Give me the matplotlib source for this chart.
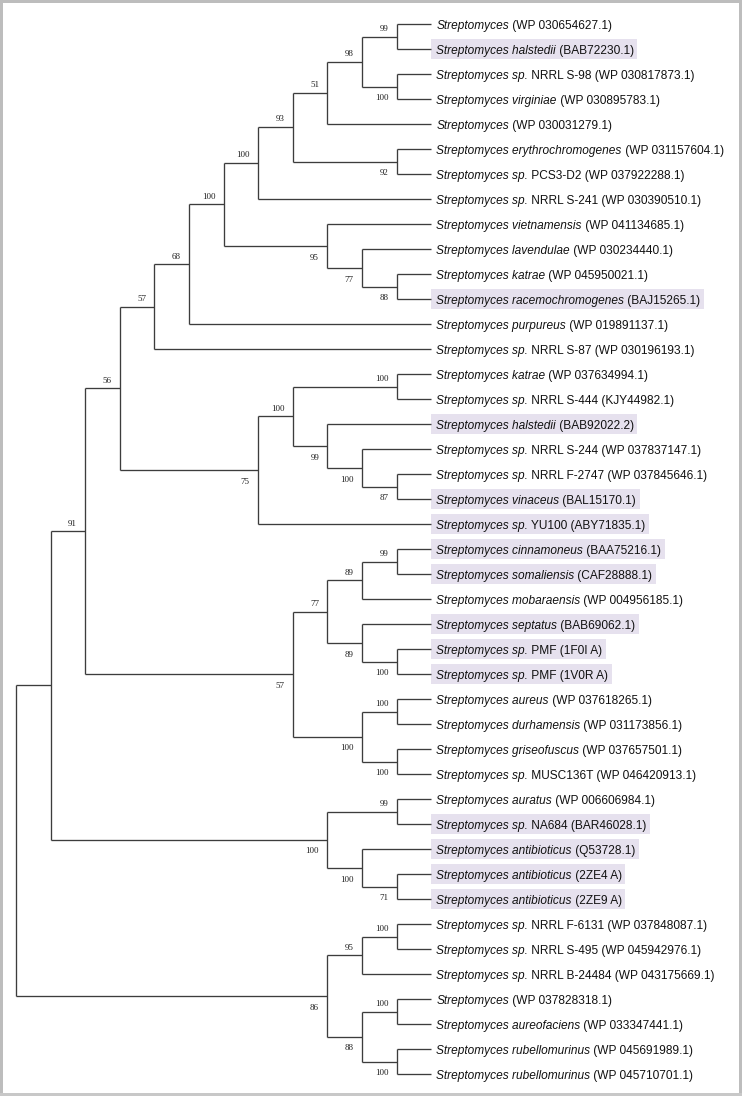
import matplotlib
matplotlib.use("Agg")
import matplotlib.pyplot as plt
from matplotlib.patches import Rectangle

# ---------------- data ----------------
# italic part / roman part of every tip label, top to bottom
taxa_italic = [
    "Streptomyces", "Streptomyces halstedii", "Streptomyces sp.", "Streptomyces virginiae",
    "Streptomyces", "Streptomyces erythrochromogenes", "Streptomyces sp.", "Streptomyces sp.",
    "Streptomyces vietnamensis", "Streptomyces lavendulae", "Streptomyces katrae",
    "Streptomyces racemochromogenes", "Streptomyces purpureus", "Streptomyces sp.",
    "Streptomyces katrae", "Streptomyces sp.", "Streptomyces halstedii", "Streptomyces sp.",
    "Streptomyces sp.", "Streptomyces vinaceus", "Streptomyces sp.", "Streptomyces cinnamoneus",
    "Streptomyces somaliensis", "Streptomyces mobaraensis", "Streptomyces septatus",
    "Streptomyces sp.", "Streptomyces sp.", "Streptomyces aureus", "Streptomyces durhamensis",
    "Streptomyces griseofuscus", "Streptomyces sp.", "Streptomyces auratus", "Streptomyces sp.",
    "Streptomyces antibioticus", "Streptomyces antibioticus", "Streptomyces antibioticus",
    "Streptomyces sp.", "Streptomyces sp.", "Streptomyces sp.", "Streptomyces",
    "Streptomyces aureofaciens", "Streptomyces rubellomurinus", "Streptomyces rubellomurinus",
]
taxa_rest = [
    "(WP 030654627.1)", "(BAB72230.1)", "NRRL S-98 (WP 030817873.1)", "(WP 030895783.1)",
    "(WP 030031279.1)", "(WP 031157604.1)", "PCS3-D2 (WP 037922288.1)",
    "NRRL S-241 (WP 030390510.1)", "(WP 041134685.1)", "(WP 030234440.1)",
    "(WP 045950021.1)", "(BAJ15265.1)", "(WP 019891137.1)", "NRRL S-87 (WP 030196193.1)",
    "(WP 037634994.1)", "NRRL S-444 (KJY44982.1)", "(BAB92022.2)",
    "NRRL S-244 (WP 037837147.1)", "NRRL F-2747 (WP 037845646.1)", "(BAL15170.1)",
    "YU100 (ABY71835.1)", "(BAA75216.1)", "(CAF28888.1)", "(WP 004956185.1)",
    "(BAB69062.1)", "PMF (1F0I A)", "PMF (1V0R A)", "(WP 037618265.1)", "(WP 031173856.1)",
    "(WP 037657501.1)", "MUSC136T (WP 046420913.1)", "(WP 006606984.1)", "NA684 (BAR46028.1)",
    "(Q53728.1)", "(2ZE4 A)", "(2ZE9 A)", "NRRL F-6131 (WP 037848087.1)",
    "NRRL S-495 (WP 045942976.1)", "NRRL B-24484 (WP 043175669.1)", "(WP 037828318.1)",
    "(WP 033347441.1)", "(WP 045691989.1)", "(WP 045710701.1)",
]
# tip numbers (1-based) drawn on a shaded background
highlighted = [2, 12, 17, 20, 21, 22, 23, 25, 26, 27, 33, 34, 35, 36]

# topology with bootstrap support as internal labels (tips = numbers above)
newick = (
    "(((("
    "((((((((1,2)99,(3,4)100)98,5)51,(6,7)92)93,8)100,(9,(10,(11,12)88)77)95)100,13)68,14)57"
    ",(((15,16)100,(17,(18,(19,20)87)100)99)100,21)75)56,"
    "((((22,23)99,24)89,(25,(26,27)100)89)77,((28,29)100,(30,31)100)100)57)91,"
    "((32,33)99,(34,(35,36)71)100)100),"
    "(((37,38)100,39)95,((40,41)100,(42,43)100)88)86);"
)


def parse(s):
    pos = 0

    def node():
        nonlocal pos
        n = {"children": [], "label": "", "tip": None}
        if s[pos] == "(":
            pos += 1
            n["children"].append(node())
            while s[pos] == ",":
                pos += 1
                n["children"].append(node())
            assert s[pos] == ")"
            pos += 1
        tok = ""
        while pos < len(s) and s[pos] not in ",();":
            tok += s[pos]
            pos += 1
        if n["children"]:
            n["label"] = tok
        else:
            n["tip"] = int(tok)
        return n

    return node()


root = parse(newick)


def height(n):
    n["h"] = 0 if not n["children"] else 1 + max(height(c) for c in n["children"])
    return n["h"]


TOP = height(root)


def place(n):
    # topology-only layout: every node sits (subtree height) steps left of the tips
    n["x"] = TOP - n["h"]
    if n["tip"] is not None:
        n["y"] = n["tip"] - 1
    else:
        for c in n["children"]:
            place(c)
        n["y"] = (n["children"][0]["y"] + n["children"][-1]["y"]) / 2


place(root)

# ---------------- figure ----------------
W, H = 742, 1096
fig = plt.figure(figsize=(W / 100, H / 100), dpi=100, facecolor="white",
                 edgecolor="#bdbdbd", linewidth=3)
ax = fig.add_axes([0, 0, 1, 1])
ax.axis("off")
step_px, x0_px = 34.6, 16
row_px, y0_px = 25.0, 24
ax.set_xlim(-x0_px / step_px, (W - x0_px) / step_px)
ax.set_ylim((H - y0_px) / row_px, -y0_px / row_px)

LC = "#3c3c3c"
LW = 0.95


def draw(n):
    if not n["children"]:
        return
    kids = n["children"]
    ax.plot([n["x"], n["x"]], [kids[0]["y"], kids[-1]["y"]], color=LC, lw=LW,
            solid_capstyle="butt")
    for i, c in enumerate(kids):
        ax.plot([n["x"], c["x"]], [c["y"], c["y"]], color=LC, lw=LW,
                solid_capstyle="butt")
        if c["label"]:
            # support value sits just left of the node it belongs to,
            # above the branch for the upper child, below for the lower one
            above = i == 0
            ax.annotate(c["label"], xy=(c["x"], c["y"]),
                        xytext=(-6.0, 5.5 if above else -8.5), textcoords="offset points",
                        ha="right", va="center", fontsize=6.5,
                        family="Liberation Serif", color="#222222")
        draw(c)


draw(root)

rest_texts = {}
for i, (it, rs) in enumerate(zip(taxa_italic, taxa_rest)):
    t1 = ax.annotate(it, xy=(TOP, i), xytext=(3.6, -1.4), textcoords="offset points",
                     ha="left", va="center", fontsize=8.6, style="italic",
                     family="Liberation Sans", color="#111111")
    t2 = ax.annotate(" " + rs, xy=(1, 0), xycoords=t1, ha="left", va="bottom",
                     fontsize=8.6, family="Liberation Sans", color="#111111")
    rest_texts[i + 1] = t2

fig.canvas.draw()
inv = ax.transData.inverted()
for k in highlighted:
    bb = rest_texts[k].get_window_extent()
    x_right = inv.transform((bb.x1 + 3.5, 0))[0]
    ax.add_patch(Rectangle((TOP + 0.0, k - 1 - 0.39), x_right - TOP, 0.79,
                           facecolor="#e6e1ee", edgecolor="none", zorder=0))

# thicker bottom edge of the frame
fig.patches.append(Rectangle((0, 0), 1, 3.5 / H, transform=fig.transFigure,
                             facecolor="#c8c8c8", edgecolor="none"))

fig.savefig("out.png", dpi=100, facecolor="white", edgecolor=fig.get_edgecolor())
